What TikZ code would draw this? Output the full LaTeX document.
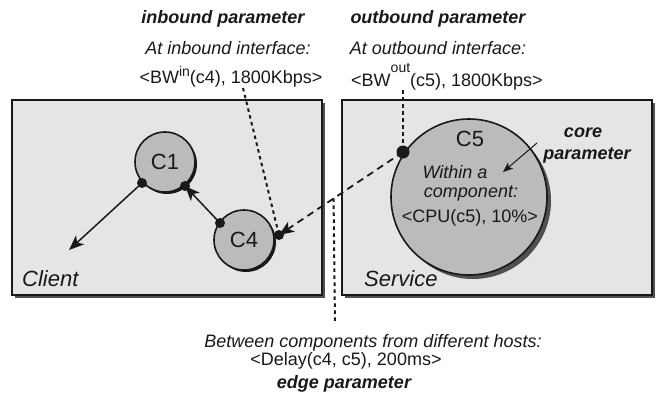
\documentclass[tikz,border=0pt]{standalone}
\usepackage{fontspec}
\setmainfont{Liberation Sans}
\usetikzlibrary{arrows.meta,shadows}
\definecolor{boxfill}{HTML}{E4E5E7}
\definecolor{cfill}{HTML}{BBBBBB}
\definecolor{shade}{HTML}{505050}
\definecolor{ink}{HTML}{1A1818}
\begin{document}
\begin{tikzpicture}[x=1pt,y=-1pt,
  txt/.style={font=\fontsize{18}{20}\selectfont\itshape, text=ink, inner sep=0pt},
  ttl/.style={font=\fontsize{18}{20}\selectfont\bfseries\itshape, text=ink, inner sep=0pt},
  plain/.style={font=\fontsize{18}{20}\selectfont, text=ink, inner sep=0pt},
  host/.style={draw=ink, line width=1.6pt, fill=boxfill, minimum width=310pt, minimum height=195pt,
    drop shadow={shadow xshift=3pt, shadow yshift=-3pt, fill=shade, opacity=1}},
  comp/.style={circle, draw=ink, line width=1.6pt, fill=cfill, minimum size=60pt, inner sep=0pt,
    font=\fontsize{22}{24}\selectfont, text=ink,
    drop shadow={shadow xshift=2pt, shadow yshift=-2pt, fill=ink, opacity=1}},
  hostlbl/.style={font=\fontsize{22}{24}\selectfont\itshape, text=ink, inner sep=0pt, anchor=west},
  dotp/.style={fill=ink},
  arr/.style={draw=ink, line width=1.5pt, -{Stealth[length=15pt,width=12pt,inset=4pt]}},
  dashedarr/.style={draw=ink, line width=1.8pt, dash pattern=on 7pt off 5pt, -{Stealth[length=15pt,width=12pt,inset=4pt]}},
  dotline/.style={draw=ink, line width=2pt, dash pattern=on 3.5pt off 3.5pt},
  thinarr/.style={draw=ink, line width=1pt, -{Stealth[length=10pt,width=8pt,inset=2.5pt]}}
]
\useasboundingbox (0,0) rectangle (658,397);

% hosts
\node[host] (client) at (167,197.5) {};
\node[host] (service) at (497,197.5) {};
\node[hostlbl] (clientlbl) at (22,279) {Client};
\node[hostlbl] (servicelbl) at (364,279) {Service};

% components
\node[comp] (c1) at (165,162) {C1};
\node[comp] (c4) at (244,240) {C4};
\node[comp, minimum size=156pt,
  drop shadow={shadow xshift=4pt, shadow yshift=-4pt, fill=shade, opacity=1}] (c5) at (469,197) {};
\node[plain, font=\fontsize{22}{24}\selectfont] (c5lbl) at (470,139) {C5};
\node[txt] (w1) at (455,172) {Within a};
\node[txt] (w2) at (471,194) {component:};
\node[plain] (w3) at (470,218) {<CPU(c5), 10\%>};

% ports
\coordinate (c1l) at (142,183);
\coordinate (c1r) at (185,186);
\coordinate (c4l) at (220,223);
\coordinate (c4r) at (279,235);
\coordinate (c5p) at (403,152);
\coordinate (tip) at (69,250);

\draw[arr] (c1l) -- (tip);
\draw[arr] (c4l) -- (c1r);
\draw[dashedarr] (c5p) -- (c4r) coordinate[pos=0.56] (em);
\fill[dotp] (c1l) circle (5);
\fill[dotp] (c1r) circle (5);
\fill[dotp] (c4l) circle (5);
\fill[dotp] (c4r) circle (5);
\fill[dotp] (c5p) circle (6.5);

% top texts
\node[ttl] (inT) at (223,19) {inbound parameter};
\node[txt] (inA) at (228,48) {At inbound interface:};
\node[plain] (inB) at (231,77) {<BW\raisebox{0.42em}{\fontsize{14}{14}\selectfont in}(c4), 1800Kbps>};
\node[ttl] (outT) at (438,19) {outbound parameter};
\node[txt] (outA) at (438,48) {At outbound interface:};
\node[plain] (outB) at (447,77) {<BW\raisebox{0.75em}{\fontsize{14}{14}\selectfont out}(c5), 1800Kbps>};
\coordinate (inS) at (243,88);
\coordinate (outS) at (403,90);
\draw[dotline] (inS) -- (c4r);
\draw[dotline] (outS) -- (c5p);

% core parameter
\node[ttl] (coreA) at (583,133) {core};
\node[ttl] (coreB) at (587,155) {parameter};
\coordinate (cs) at (537,143);
\coordinate (ce) at (503,172);
\draw[thinarr] (cs) -- (ce);

% edge parameter
\coordinate (ee) at (335,324);
\draw[dotline] (em) -- (ee);
\node[txt] (eA) at (373,343) {Between components from different hosts:};
\node[plain] (eB) at (346,361) {<Delay(c4, c5), 200ms>};
\node[ttl] (eC) at (344,384) {edge parameter};
\end{tikzpicture}
\end{document}
